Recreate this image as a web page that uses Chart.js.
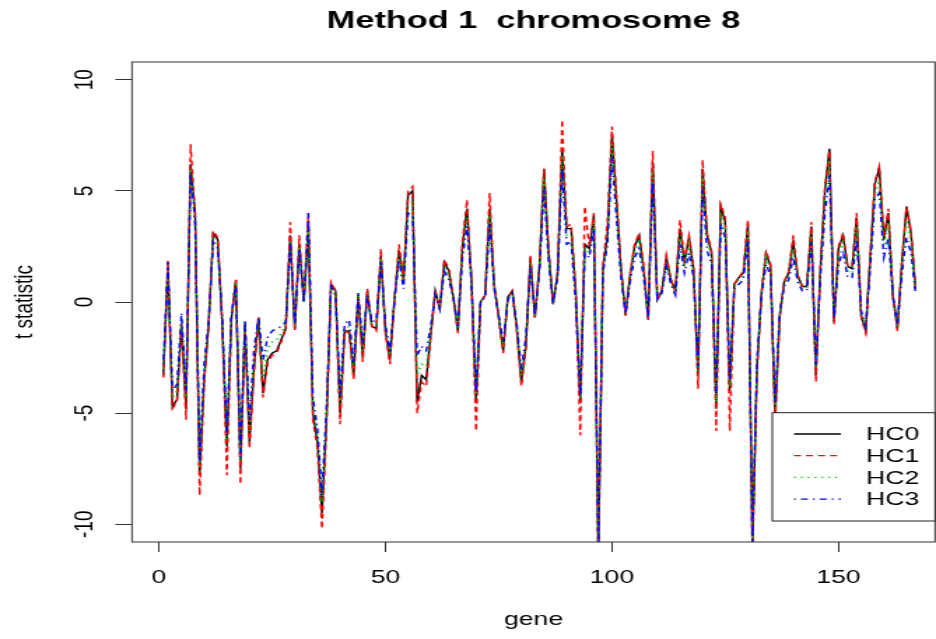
<!DOCTYPE html>
<html>
<head>
<meta charset="utf-8">
<title>Method 1 chromosome 8</title>
<script src="https://cdn.jsdelivr.net/npm/chart.js@4.4.0/dist/chart.umd.min.js"></script>
<style>
  html, body { margin: 0; padding: 0; background: #fff; overflow: hidden; }
  /* the source is an R plot that was stretched sideways, so draw it narrow and widen it */
  #wrap { width: 669px; height: 639px; transform: scaleX(1.3991); transform-origin: 0 0; }
</style>
</head>
<body>
<div id="wrap"><canvas id="chart" width="669" height="639"></canvas></div>
<script>
// t statistic per gene, one array per method
const hc0 = [
  -3.3, 1.6, -4.7, -4.4, -1.0, -4.8, 6.2, 4.0, -7.8, -3.5,
  -1.0, 3.1, 2.8, -1.0, -6.5, -0.8, 1.0, -7.5, -1.0, -6.3,
  -3.0, -0.7, -4.1, -2.6, -2.3, -2.2, -1.7, -1.2, 3.0, -1.2,
  2.6, 0.0, 3.3, -5.0, -6.3, -9.5, -5.3, 0.8, 0.5, -5.0,
  -1.3, -1.3, -3.3, 0.3, -2.5, 0.5, -1.1, -1.2, 2.1, -1.3,
  -2.6, 0.1, 2.3, 1.0, 4.8, 5.0, -4.5, -3.3, -3.5, -1.5,
  0.5, -0.3, 1.8, 1.4, 0.2, -1.3, 2.5, 4.2, 1.0, -4.5,
  0.0, 0.3, 4.2, 0.8, -0.7, -2.2, 0.2, 0.5, -1.2, -3.6,
  -2.0, 2.0, -0.7, 1.6, 6.0, 2.3, -0.1, 1.3, 6.9, 3.3,
  3.3, 0.5, -4.5, 2.6, 2.4, 3.9, -11.5, 1.5, 3.0, 7.5,
  4.6, 1.5, -0.6, 1.2, 2.5, 3.0, 1.5, -0.8, 6.3, 0.1,
  0.5, 2.0, 1.0, 0.5, 3.3, 1.8, 2.9, 1.5, -3.3, 6.0,
  3.0, 2.2, -4.8, 4.3, 3.6, -4.0, 0.8, 1.1, 1.3, 3.5,
  -11.0, -3.0, 0.4, 2.2, 1.6, -5.2, -0.7, 0.9, 1.3, 2.7,
  1.2, 0.7, 0.7, 3.4, -3.3, 1.5, 5.0, 6.9, -0.9, 2.4,
  3.0, 1.6, 1.5, 3.8, -0.6, -1.3, 2.0, 5.3, 6.0, 2.8,
  4.0, 0.3, -1.2, 1.8, 4.3, 3.1, 0.6
];
const hc1 = [
  -3.4, 1.9, -4.8, -4.5, -1.0, -5.3, 7.1, 4.0, -8.7, -3.6,
  -1.0, 3.2, 2.9, -1.0, -7.8, -0.8, 1.0, -8.2, -1.0, -6.6,
  -3.1, -0.7, -4.3, -2.7, -2.4, -2.3, -1.8, -1.2, 3.6, -1.3,
  3.0, 0.0, 4.0, -5.3, -6.6, -10.2, -5.6, 0.9, 0.5, -5.5,
  -1.3, -1.4, -3.5, 0.3, -2.7, 0.6, -1.1, -1.3, 2.4, -1.4,
  -2.8, 0.1, 2.6, 1.0, 5.0, 5.2, -5.0, -3.6, -3.8, -1.6,
  0.5, -0.3, 1.9, 1.5, 0.2, -1.4, 2.7, 4.6, 1.0, -5.8,
  0.0, 0.3, 4.9, 0.8, -0.7, -2.3, 0.2, 0.5, -1.3, -3.8,
  -2.1, 2.1, -0.7, 1.7, 6.0, 2.4, -0.1, 1.3, 8.2, 3.4,
  3.5, 0.5, -6.0, 4.3, 2.5, 4.0, -12.0, 1.6, 3.6, 7.9,
  4.8, 1.5, -0.6, 1.3, 2.6, 3.1, 1.6, -0.8, 6.8, 0.1,
  0.5, 2.1, 1.0, 0.5, 3.7, 1.9, 3.0, 1.6, -3.9, 6.4,
  3.1, 2.3, -5.8, 4.4, 3.8, -5.8, 0.8, 1.1, 1.4, 3.7,
  -11.5, -3.2, 0.4, 2.3, 1.7, -5.6, -0.7, 0.9, 1.4, 3.0,
  1.2, 0.7, 0.7, 3.6, -3.6, 1.6, 5.2, 6.8, -1.0, 2.5,
  3.1, 1.6, 1.6, 4.0, -0.7, -1.4, 2.1, 5.4, 6.1, 2.9,
  4.2, 0.3, -1.3, 1.9, 4.3, 3.2, 0.6
];
const hc2 = [
  -3.0, 1.4, -4.3, -4.0, -0.8, -4.3, 6.0, 3.8, -7.5, -3.1,
  -0.9, 2.9, 2.6, -0.9, -6.2, -0.7, 0.9, -7.2, -0.9, -5.8,
  -2.6, -0.8, -3.4, -2.1, -1.8, -1.7, -1.4, -1.0, 2.8, -1.1,
  2.5, 0.0, 3.3, -4.6, -6.0, -9.0, -5.0, 0.7, 0.4, -4.6,
  -1.2, -1.1, -3.0, 0.3, -2.2, 0.4, -1.0, -1.0, 2.0, -1.1,
  -2.4, 0.1, 2.1, 0.8, 4.4, 4.5, -3.3, -2.8, -2.9, -1.3,
  0.4, -0.3, 1.6, 1.2, 0.2, -1.2, 2.3, 3.8, 0.9, -4.3,
  0.0, 0.3, 3.9, 0.7, -0.6, -2.0, 0.2, 0.4, -1.1, -3.3,
  -1.8, 1.8, -0.6, 1.5, 5.6, 2.1, -0.1, 1.2, 6.6, 3.0,
  3.0, 0.4, -4.3, 2.4, 2.2, 3.6, -11.2, 1.4, 2.8, 7.1,
  4.2, 1.3, -0.5, 1.1, 2.3, 2.7, 1.3, -0.7, 5.9, 0.1,
  0.4, 1.8, 0.9, 0.4, 3.0, 1.6, 2.6, 1.3, -3.1, 5.6,
  2.7, 2.0, -4.5, 4.0, 3.3, -3.8, 0.7, 1.0, 1.2, 3.2,
  -10.9, -2.8, 0.4, 2.0, 1.4, -4.8, -0.6, 0.8, 1.2, 2.4,
  1.1, 0.6, 0.6, 3.1, -3.0, 1.3, 4.6, 6.4, -0.8, 2.1,
  2.7, 1.4, 1.3, 3.4, -0.5, -1.2, 1.8, 4.8, 5.5, 2.5,
  3.6, 0.3, -1.1, 1.6, 3.8, 2.7, 0.5
];
const hc3 = [
  -2.8, 1.8, -4.0, -3.7, -0.5, -4.0, 5.8, 3.6, -7.2, -2.8,
  -0.8, 2.7, 2.4, -0.8, -6.0, -0.6, 0.8, -7.0, -0.8, -5.3,
  -2.1, -0.7, -2.6, -1.6, -1.3, -1.2, -1.1, -0.9, 2.6, -1.0,
  2.4, 0.0, 4.0, -4.3, -5.7, -8.6, -4.7, 0.7, 0.3, -4.2,
  -1.0, -0.8, -2.7, 0.4, -1.9, 0.3, -0.9, -0.8, 1.8, -1.0,
  -2.2, 0.1, 1.9, 0.6, 4.0, 3.9, -2.4, -2.0, -2.2, -1.1,
  0.3, -0.3, 1.4, 1.0, 0.2, -1.1, 2.0, 3.4, 0.8, -4.0,
  0.0, 0.2, 3.5, 0.6, -0.6, -1.8, 0.1, 0.4, -1.0, -3.0,
  -1.6, 1.6, -0.6, 1.4, 5.1, 1.9, -0.1, 1.1, 6.0, 2.6,
  2.7, -0.1, -4.2, 2.2, 2.0, 3.3, -11.0, 1.3, 2.6, 6.5,
  3.7, 1.1, -0.5, 0.9, 2.0, 2.4, 1.1, -0.7, 5.4, 0.1,
  0.4, 1.6, 0.8, 0.3, 2.6, 1.3, 2.2, 1.1, -2.9, 5.1,
  2.3, 1.7, -4.2, 3.5, 2.9, -3.5, 0.6, 0.8, 1.0, 2.8,
  -10.9, -2.6, 0.3, 1.7, 1.2, -4.5, -0.5, 0.7, 1.0, 2.0,
  0.9, 0.5, 0.5, 2.7, -2.8, 1.1, 4.0, 5.7, -0.7, 1.7,
  2.3, 1.1, 1.1, 2.8, -0.4, -1.1, 1.5, 4.6, 4.9, 2.0,
  2.9, 0.2, -1.0, 1.3, 2.9, 2.2, 0.4
];
const seriesNames = ["HC0", "HC1", "HC2", "HC3"];
const xTicks = [0, 50, 100, 150];
const yTicks = [-10, -5, 0, 5, 10];

// gene index 1..n
const genes = hc0.map((v, i) => i + 1);
const allSeries = [hc0, hc1, hc2, hc3];

// R style lines: solid, dashed, dotted, dot-dash
const lineColors = ["#000000", "#ff0000", "#00cc00", "#0000ff"];
const lineDashes = [[], [5, 3.6], [1.3, 3.6], [1.3, 3.6, 5, 3.6]];

const font = '"Liberation Sans", Arial, sans-serif';
Chart.defaults.font.family = font;
Chart.defaults.color = "#000";

// box round the plot and the legend in the bottom right corner
const rFrame = {
  id: "rFrame",
  afterDatasetsDraw(chart) {
    const { ctx, chartArea: a } = chart;
    ctx.save();
    ctx.strokeStyle = "#333";
    ctx.lineWidth = 1;
    ctx.strokeRect(a.left, a.top, a.right - a.left, a.bottom - a.top);

    const lx = a.right - 116.3, ly = a.bottom - 129.3;
    const lw = 116.3, lh = 108.3;
    ctx.fillStyle = "#fff";
    ctx.fillRect(lx, ly, lw, lh);
    ctx.strokeStyle = "#222";
    ctx.strokeRect(lx, ly, lw, lh);

    ctx.font = "19px " + font;
    ctx.textBaseline = "middle";
    ctx.textAlign = "left";
    seriesNames.forEach((name, i) => {
      const y = ly + 21.3 + i * 21.7;
      ctx.beginPath();
      ctx.setLineDash(lineDashes[i]);
      ctx.strokeStyle = lineColors[i];
      ctx.lineWidth = 1.3;
      ctx.moveTo(lx + 15.5, y);
      ctx.lineTo(lx + 49, y);
      ctx.stroke();
      ctx.setLineDash([]);
      ctx.fillStyle = "#000";
      ctx.fillText(name, lx + 67, y + 1);
    });
    ctx.restore();
  }
};

new Chart(document.getElementById("chart"), {
  type: "line",
  data: {
    datasets: allSeries.map((vals, i) => ({
      label: seriesNames[i],
      data: vals.map((v, j) => ({ x: genes[j], y: v })),
      borderColor: lineColors[i],
      borderDash: lineDashes[i],
      borderWidth: 1.4,
      pointRadius: 0,
      tension: 0,
      fill: false,
      order: 3 - i
    }))
  },
  options: {
    responsive: false,
    animation: false,
    layout: { padding: { top: 0, right: 0.7, bottom: 0, left: 0 } },
    plugins: {
      legend: { display: false },
      tooltip: { enabled: false },
      title: {
        display: true,
        fullSize: false,
        text: "Method 1  chromosome 8",
        font: { size: 24.5, weight: "bold", family: font },
        color: "#000",
        padding: { top: 6.3, bottom: 26.3 }
      }
    },
    scales: {
      x: {
        type: "linear",
        min: -5.92,
        max: 171.3,
        afterBuildTicks: s => { s.ticks = xTicks.map(v => ({ value: v })); },
        afterFit: s => { s.height = 97; },
        grid: { drawOnChartArea: false, drawTicks: true, tickLength: 10, color: "#333" },
        border: { display: false },
        ticks: { font: { size: 19 }, padding: 14, autoSkip: false, maxRotation: 0 },
        title: { display: true, text: "gene", font: { size: 19 }, padding: { top: 0, bottom: 7.6 } }
      },
      y: {
        type: "linear",
        min: -10.8,
        max: 10.8,
        afterBuildTicks: s => { s.ticks = yTicks.map(v => ({ value: v })); },
        afterFit: s => { s.width = 94.35; },
        grid: { drawOnChartArea: false, drawTicks: true, tickLength: 12, color: "#333" },
        border: { display: false },
        ticks: { font: { size: 19 }, padding: 8, minRotation: 90, maxRotation: 90, crossAlign: "center" },
        title: { display: true, text: "t statistic", font: { size: 19 }, padding: { top: 6.5, bottom: 0 } }
      }
    }
  },
  plugins: [rFrame]
});
</script>
</body>
</html>
